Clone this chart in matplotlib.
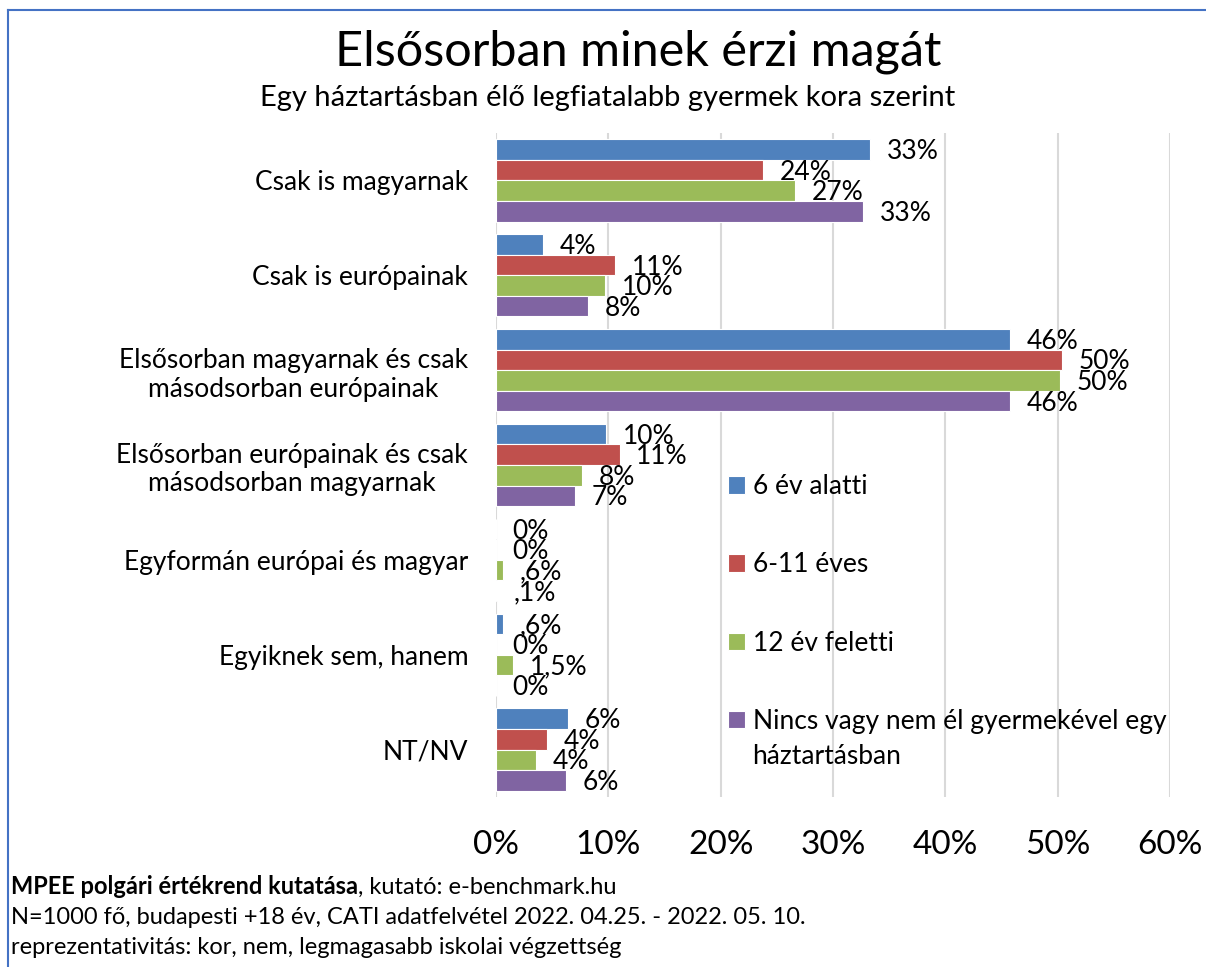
import matplotlib
matplotlib.use("Agg")
import matplotlib.pyplot as plt
from matplotlib.lines import Line2D
import numpy as np

plt.rcParams['font.family'] = ['Lato', 'DejaVu Sans']

categories = ["Csak is magyarnak",
              "Csak is európainak",
              "Elsősorban magyarnak és csak\nmásodsorban európainak",
              "Elsősorban európainak és csak\nmásodsorban magyarnak",
              "Egyformán európai és magyar",
              "Egyiknek sem, hanem",
              "NT/NV"]
series = ["6 év alatti", "6-11 éves", "12 év feletti",
          "Nincs vagy nem él gyermekével egy háztartásban"]
colors = ["#4F81BD", "#C0504D", "#9BBB59", "#8064A2"]

vals_u6 = [33.3, 4.2, 45.8, 9.8, 0.0, 0.6, 6.4]
vals_6_11 = [23.8, 10.6, 50.4, 11.0, 0.0, 0.0, 4.5]
vals_12 = [26.6, 9.7, 50.2, 7.7, 0.6, 1.5, 3.6]
vals_none = [32.7, 8.2, 45.8, 7.0, 0.1, 0.0, 6.2]

lab_u6 = ["33%", "4%", "46%", "10%", "0%", ",6%", "6%"]
lab_6_11 = ["24%", "11%", "50%", "11%", "0%", "0%", "4%"]
lab_12 = ["27%", "10%", "50%", "8%", ",6%", "1,5%", "4%"]
lab_none = ["33%", "8%", "46%", "7%", ",1%", "0%", "6%"]

all_vals = [vals_u6, vals_6_11, vals_12, vals_none]
all_labs = [lab_u6, lab_6_11, lab_12, lab_none]

W, H = 1206, 967
fig = plt.figure(figsize=(W / 100, H / 100), dpi=100)
ax = fig.add_axes([496 / W, 1 - 797 / H, (1170 - 496) / W, (797 - 133) / H])

y = np.arange(len(categories))
bh = 0.217
bars = []
for k in range(4):
    pos = y + (k - 1.5) * bh
    b = ax.barh(pos, all_vals[k], height=bh, color=colors[k],
                edgecolor='white', linewidth=0.8, zorder=3, label=series[k])
    bars.append(b)
    for p, v, t in zip(pos, all_vals[k], all_labs[k]):
        ax.annotate(t, (v, p), xytext=(12, -1.5), textcoords='offset points',
                    ha='left', va='center', fontsize=19, color='black', zorder=4)

ax.set_xlim(0, 60)
ax.set_ylim(len(categories) - 0.5, -0.5)
ax.set_xticks(np.arange(0, 61, 10))
ax.set_xticklabels([f"{t}%" for t in range(0, 61, 10)], fontsize=24)
ax.set_yticks(y)
ax.set_yticklabels(categories, fontsize=19)
for lbl in ax.get_yticklabels():
    lbl.set_multialignment('center')
ax.tick_params(axis='y', length=0, pad=20)
ax.tick_params(axis='x', length=0, pad=24)
ax.grid(axis='x', color='#d9d9d9', linewidth=1.5, zorder=0)
for s in ax.spines.values():
    s.set_visible(False)

leg = ax.legend(handles=[bars[0], bars[1], bars[2], bars[3]],
                labels=series[:3] + ["Nincs vagy nem él gyermekével egy"],
                loc='upper left', bbox_to_anchor=(728 / W, 1 - 474 / H),
                bbox_transform=fig.transFigure, frameon=False, fontsize=19,
                handlelength=0.65, handleheight=0.65, handletextpad=0.3,
                labelspacing=2.02, borderpad=0, borderaxespad=0)
fig.text(752 / W, 1 - 757 / H, "háztartásban", fontsize=19, va='center', ha='left')

fig.text(638 / W, 1 - 52 / H, "Elsősorban minek érzi magát", fontsize=35,
         ha='center', va='center')
fig.text(608 / W, 1 - 98 / H, "Egy háztartásban élő legfiatalabb gyermek kora szerint",
         fontsize=21, ha='center', va='center')

# footer
fx = 11 / W
t1 = fig.text(fx, 1 - 887 / H, "MPEE polgári értékrend kutatása", fontsize=17,
              fontweight='bold', va='center', ha='left')
r = fig.canvas.get_renderer()
bb = t1.get_window_extent(renderer=r)
fig.text(bb.x1 / W, 1 - 887 / H, ", kutató: e-benchmark.hu", fontsize=17,
         va='center', ha='left')
fig.text(fx, 1 - 917 / H,
         "N=1000 fő, budapesti +18 év, CATI adatfelvétel 2022. 04.25. - 2022. 05. 10.",
         fontsize=17, va='center', ha='left')
fig.text(fx, 1 - 947 / H,
         "reprezentativitás: kor, nem, legmagasabb iskolai végzettség",
         fontsize=17, va='center', ha='left')

# frame border
fig.add_artist(Line2D([8 / W, 8 / W], [1 - 10 / H, 0], color='#4472C4', linewidth=1.5,
                      transform=fig.transFigure))
fig.add_artist(Line2D([8 / W, 1], [1 - 10 / H, 1 - 10 / H], color='#4472C4', linewidth=1.5,
                      transform=fig.transFigure))

fig.savefig("out.png", dpi=100)
